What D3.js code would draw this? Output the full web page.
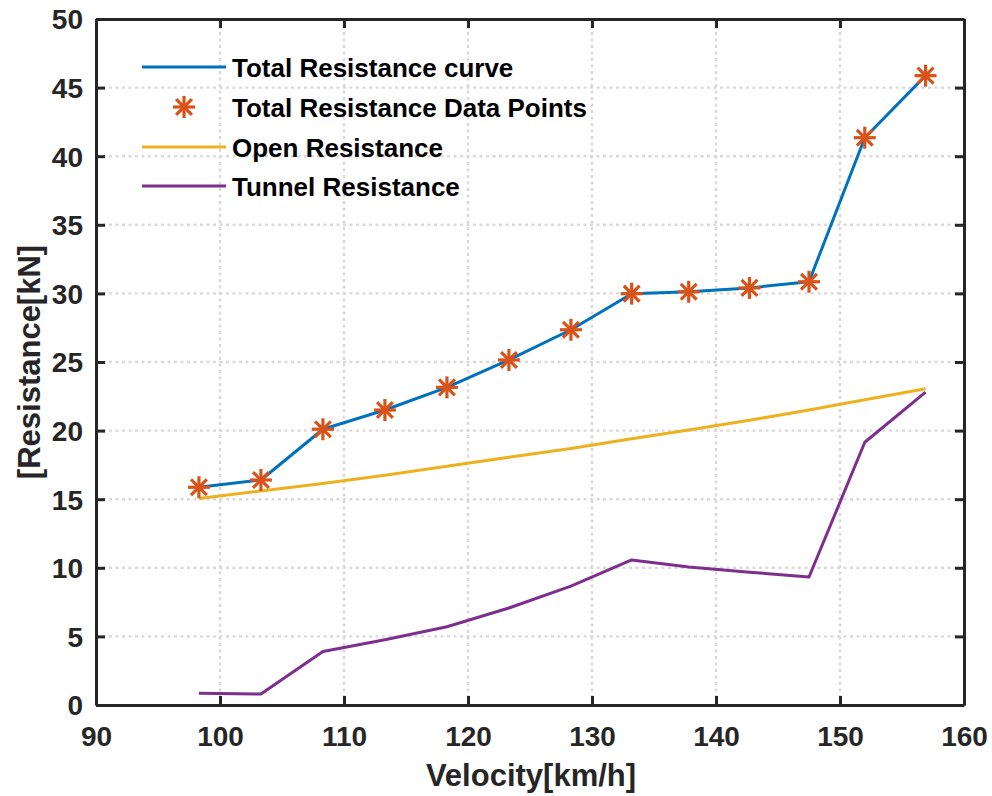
<!DOCTYPE html>
<html><head><meta charset="utf-8">
<script src="https://cdn.jsdelivr.net/npm/d3@7"></script>
<style>body{margin:0;background:#fff}</style>
</head><body>
<svg id="c" width="992" height="796"></svg>
<script>
const velocity = [98.3, 103.3, 108.3, 113.3, 118.3, 123.3, 128.3, 133.2, 137.8, 142.7, 147.5, 152.0, 156.9];
const totalRes = [15.87, 16.4, 20.1, 21.5, 23.15, 25.15, 27.35, 29.98, 30.12, 30.4, 30.85, 41.35, 45.87];
const openRes = [15.05, 15.6, 16.15, 16.75, 17.4, 18.05, 18.7, 19.4, 20.05, 20.75, 21.5, 22.25, 23.05];
const tunnelRes = [0.85, 0.8, 3.9, 4.75, 5.7, 7.07, 8.67, 10.57, 10.06, 9.68, 9.33, 19.15, 22.8];
const xTicks = [90, 100, 110, 120, 130, 140, 150, 160];
const yTicks = [0, 5, 10, 15, 20, 25, 30, 35, 40, 45, 50];
const legendLabels = ["Total Resistance curve", "Total Resistance Data Points", "Open Resistance", "Tunnel Resistance"];

const L = 96, R = 964, T = 19, B = 705;
const svg = d3.select("#c");
const x = d3.scaleLinear().domain([90, 160]).range([L, R]);
const y = d3.scaleLinear().domain([0, 50]).range([B, T]);
const font = "'Liberation Sans', Arial, sans-serif";
const axisCol = "#262626";

// grid
const g = svg.append("g");
g.selectAll(".gx").data(xTicks.filter(t => t > 90 && t < 160)).join("line")
  .attr("x1", d => x(d)).attr("x2", d => x(d)).attr("y1", T).attr("y2", B)
  .attr("stroke", "#d9d9d9").attr("stroke-width", 2.4).attr("stroke-dasharray", "3,3.5");
g.selectAll(".gy").data(yTicks.filter(t => t > 0 && t < 50)).join("line")
  .attr("y1", d => y(d)).attr("y2", d => y(d)).attr("x1", L).attr("x2", R)
  .attr("stroke", "#d9d9d9").attr("stroke-width", 2.4).attr("stroke-dasharray", "3,3.5");

// axes
const tl = 9;
const xb = svg.append("g").attr("transform", `translate(0,${B})`)
  .call(d3.axisBottom(x).tickValues(xTicks).tickSizeInner(-tl).tickSizeOuter(0).tickPadding(21));
const xt = svg.append("g").attr("transform", `translate(0,${T})`)
  .call(d3.axisTop(x).tickValues(xTicks).tickSizeInner(-tl).tickSizeOuter(0).tickFormat(""));
const yl = svg.append("g").attr("transform", `translate(${L},0)`)
  .call(d3.axisLeft(y).tickValues(yTicks).tickSizeInner(-tl).tickSizeOuter(0).tickPadding(13));
const yr = svg.append("g").attr("transform", `translate(${R},0)`)
  .call(d3.axisRight(y).tickValues(yTicks).tickSizeInner(-tl).tickSizeOuter(0).tickFormat(""));
[xb, xt, yl, yr].forEach(a => {
  a.select(".domain").attr("stroke", axisCol).attr("stroke-width", 3);
  a.selectAll(".tick line").attr("stroke", axisCol).attr("stroke-width", 3);
  a.selectAll(".tick text").attr("fill", axisCol).attr("font-family", font)
    .attr("font-size", 28).attr("font-weight", "bold");
});
xb.selectAll(".tick text").attr("dy", "0.71em");
yl.selectAll(".tick text").attr("dy", "0.35em");

// lines
const line = d3.line().x((d, i) => x(velocity[i])).y(d => y(d));
const series = [
  {v: totalRes, c: "#0072BD"},
  {v: openRes, c: "#EDB120"},
  {v: tunnelRes, c: "#7E2F8E"}
];
svg.append("g").selectAll("path").data(series).join("path")
  .attr("d", d => line(d.v)).attr("fill", "none").attr("stroke", d => d.c)
  .attr("stroke-width", 3).attr("stroke-linejoin", "round");

// star markers
function star(sel, cx, cy, r) {
  const gg = sel.append("g").attr("transform", `translate(${cx},${cy})`)
    .attr("stroke", "#D95319").attr("stroke-width", 3.2);
  const d = r * 0.72;
  gg.append("line").attr("x1", -r).attr("x2", r).attr("y1", 0).attr("y2", 0);
  gg.append("line").attr("x1", 0).attr("x2", 0).attr("y1", -r).attr("y2", r);
  gg.append("line").attr("x1", -d).attr("x2", d).attr("y1", -d).attr("y2", d);
  gg.append("line").attr("x1", -d).attr("x2", d).attr("y1", d).attr("y2", -d);
}
const mk = svg.append("g");
totalRes.forEach((v, i) => star(mk, x(velocity[i]), y(v), 11));

// legend
const lg = svg.append("g");
const ly = [67, 107, 147, 186];
const lc = ["#0072BD", null, "#EDB120", "#7E2F8E"];
legendLabels.forEach((t, i) => {
  if (lc[i]) lg.append("line").attr("x1", 142).attr("x2", 226).attr("y1", ly[i]).attr("y2", ly[i])
    .attr("stroke", lc[i]).attr("stroke-width", 3);
  else star(lg, 184, ly[i], 11);
  lg.append("text").attr("x", 232).attr("y", ly[i] + 1).attr("dy", "0.35em")
    .attr("font-family", font).attr("font-size", 26).attr("font-weight", "bold")
    .attr("fill", "#000").text(t);
});

// axis labels
svg.append("text").attr("x", 531).attr("y", 786).attr("text-anchor", "middle")
  .attr("font-family", font).attr("font-size", 31).attr("font-weight", "bold").attr("fill", axisCol)
  .text("Velocity[km/h]");
svg.append("text").attr("transform", `translate(40,362) rotate(-90)`).attr("text-anchor", "middle")
  .attr("font-family", font).attr("font-size", 31).attr("font-weight", "bold").attr("fill", axisCol)
  .text("[Resistance[kN]");
</script>
</body></html>
